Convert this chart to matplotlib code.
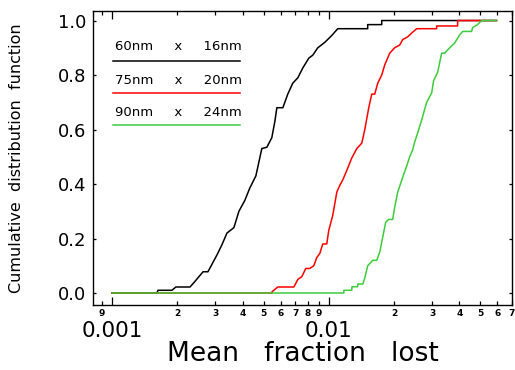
import matplotlib
matplotlib.use('Agg')
import matplotlib.pyplot as plt
from matplotlib.ticker import FixedLocator, FixedFormatter

# cumulative distributions of the mean fraction lost, one per wire size
x_small = [0.00100, 0.00161, 0.00163, 0.00189, 0.00197, 0.00229, 0.00241, 0.00263, 0.00277,
           0.00305, 0.00321, 0.00339, 0.00365, 0.00385, 0.00410, 0.00432, 0.00461, 0.00491,
           0.00518, 0.00546, 0.00564, 0.00576, 0.00614, 0.00647, 0.00682, 0.00720, 0.00759,
           0.00809, 0.00844, 0.00890, 0.00959, 0.01032, 0.01100, 0.01512, 0.01512, 0.01755,
           0.01755, 0.0594]
y_small = [0.0, 0.0, 0.01, 0.01, 0.022, 0.022, 0.042, 0.078, 0.078,
           0.14, 0.176, 0.22, 0.24, 0.30, 0.34, 0.385, 0.43, 0.53,
           0.535, 0.57, 0.63, 0.68, 0.68, 0.73, 0.77, 0.79, 0.826,
           0.862, 0.873, 0.90, 0.92, 0.945, 0.97, 0.97, 0.985, 0.985,
           1.0, 1.0]

x_mid = [0.00100, 0.00546, 0.00548, 0.00582, 0.00690, 0.00720, 0.00751, 0.00783, 0.00817,
         0.00853, 0.00880, 0.00909, 0.00938, 0.00979, 0.01000, 0.01043, 0.01089, 0.01124,
         0.01160, 0.01211, 0.01276, 0.01346, 0.01420, 0.01466, 0.01529, 0.01579, 0.01629,
         0.01682, 0.01755, 0.01812, 0.01910, 0.02014, 0.02124, 0.02193, 0.02312, 0.02413,
         0.02544, 0.03145, 0.03145, 0.03931, 0.03931, 0.0594]
y_mid = [0.0, 0.0, 0.005, 0.022, 0.022, 0.05, 0.06, 0.09, 0.09,
         0.10, 0.13, 0.145, 0.18, 0.18, 0.23, 0.285, 0.37, 0.395,
         0.415, 0.45, 0.495, 0.53, 0.55, 0.60, 0.68, 0.73, 0.73,
         0.77, 0.80, 0.837, 0.88, 0.90, 0.91, 0.93, 0.94, 0.954,
         0.97, 0.97, 0.98, 0.98, 1.0, 1.0]

x_large = [0.00100, 0.01173, 0.01175, 0.01276, 0.01280, 0.01360, 0.01362, 0.01435, 0.01466,
           0.01512, 0.01595, 0.01664, 0.01718, 0.01831, 0.01890, 0.01972, 0.02014, 0.02080,
           0.02193, 0.02288, 0.02362, 0.02438, 0.02491, 0.02570, 0.02683, 0.02829, 0.02983,
           0.03047, 0.03179, 0.03317, 0.03424, 0.03611, 0.03807, 0.04015, 0.04145, 0.04560,
           0.04608, 0.04859, 0.0507, 0.0594]
y_large = [0.0, 0.0, 0.01, 0.01, 0.023, 0.023, 0.033, 0.033, 0.055,
           0.10, 0.12, 0.12, 0.15, 0.26, 0.27, 0.27, 0.315, 0.37,
           0.425, 0.466, 0.50, 0.525, 0.554, 0.587, 0.635, 0.70, 0.734,
           0.78, 0.81, 0.88, 0.88, 0.90, 0.917, 0.947, 0.96, 0.96,
           0.974, 0.985, 1.0, 1.0]

labels = ['60nm     x     16nm', '75nm     x     20nm', '90nm     x     24nm']
colors = ['#000000', '#ff0000', '#3ccc3c']

major_x = [0.001, 0.01]
major_x_labels = ['0.001', '0.01']
minor_x = [0.0009, 0.002, 0.003, 0.004, 0.005, 0.006, 0.007, 0.008, 0.009,
           0.02, 0.03, 0.04, 0.05, 0.06, 0.07]
minor_x_labels = ['9', '2', '3', '4', '5', '6', '7', '8', '9', '2', '3', '4', '5', '6', '7']
y_ticks = [0.0, 0.2, 0.4, 0.6, 0.8, 1.0]

fig = plt.figure(figsize=(5.15, 3.70), dpi=100)
ax = fig.add_axes([0.1806, 0.1757, 0.8136, 0.7946])

for xs, ys, c in zip([x_small, x_mid, x_large], [y_small, y_mid, y_large], colors):
    ax.plot(xs, ys, color=c, lw=1.1)

ax.set_xscale('log')
ax.set_xlim(0.000817, 0.07005)
ax.set_ylim(-0.044, 1.035)

ax.xaxis.set_major_locator(FixedLocator(major_x))
ax.xaxis.set_major_formatter(FixedFormatter(major_x_labels))
ax.xaxis.set_minor_locator(FixedLocator(minor_x))
ax.xaxis.set_minor_formatter(FixedFormatter(minor_x_labels))
ax.set_yticks(y_ticks)
ax.set_yticklabels([f'{v:.1f}' for v in y_ticks])

ax.tick_params(axis='x', which='major', direction='in', top=True, length=5.5, width=0.9,
               labelsize=15.5, pad=11.5)
ax.tick_params(axis='x', which='minor', direction='in', top=True, length=3, width=0.9,
               labelsize=6.5, pad=3)
for t in ax.xaxis.get_minorticklabels():
    t.set_fontweight('bold')
ax.tick_params(axis='y', which='both', direction='in', right=True, length=2.5, width=0.9,
               labelsize=13, pad=5)

for s in ax.spines.values():
    s.set_linewidth(1.0)

ax.set_xlabel('Mean   fraction   lost', fontsize=19, labelpad=0)
ax.set_ylabel('Cumulative  distribution  function', fontsize=11.5, labelpad=24)

# legend: label above a short line sample
text_y = [0.878, 0.765, 0.656]
line_y = [0.830, 0.721, 0.612]
for lab, c, ty, ly in zip(labels, colors, text_y, line_y):
    ax.text(0.052, ty, lab, transform=ax.transAxes, fontsize=9.5, va='center', ha='left')
    ax.plot([0.0477, 0.351], [ly, ly], transform=ax.transAxes, color=c, lw=1.1)

fig.savefig('out.png', dpi=100, facecolor='white')
